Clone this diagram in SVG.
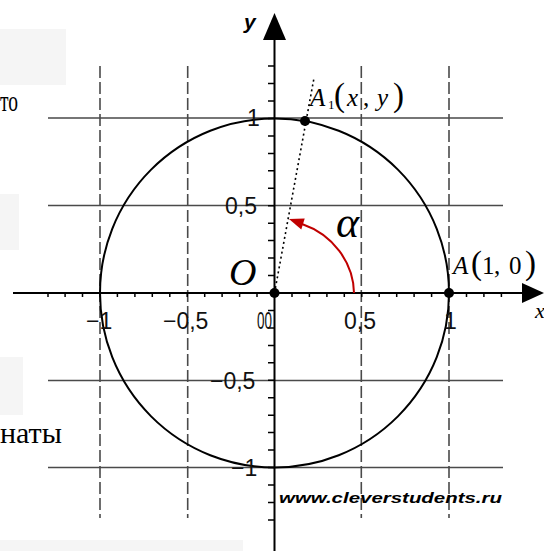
<svg xmlns="http://www.w3.org/2000/svg" width="544" height="551" viewBox="0 0 544 551">
<style>
.box{fill:#f5f5f5}
.page{font-family:"Liberation Serif","Times New Roman",serif;font-size:30px;fill:#000}
.grid-h{stroke:#4a4a4a;stroke-width:1.6;fill:none}
.grid-v{stroke:#4a4a4a;stroke-width:1.6;stroke-dasharray:12 4;fill:none}
.axis{stroke:#000;stroke-width:2;fill:none}
.tick{stroke:#000;stroke-width:1.5;fill:none}
.lbl{font-family:"Liberation Sans",Arial,sans-serif;font-size:23px;fill:#111}
.it{font-family:"Liberation Serif","Times New Roman",serif;font-style:italic;fill:#000}
.rm{font-family:"Liberation Serif","Times New Roman",serif;fill:#000}
</style>
<rect width="544" height="551" fill="#fff"/>
<g id="page-fragments">
<rect class="box" x="0" y="29" width="66" height="56"/>
<rect class="box" x="0" y="194" width="19" height="56"/>
<rect class="box" x="0" y="357" width="23" height="58"/>
<rect class="box" x="0" y="540" width="243" height="11"/>
<text class="page" x="0" y="111" textLength="18" lengthAdjust="spacingAndGlyphs">то</text>
<text class="page" x="0" y="443">наты</text>
</g>
<g id="grid">
<path class="grid-h" d="M48,118H503M48,205.5H503M48,380.5H503M48,467.5H503"/>
<path class="grid-v" d="M100,66V518M187.7,66V518M361.3,66V518M449,66V518"/>
</g>
<g id="circle">
<circle cx="274.5" cy="293" r="174.5" fill="none" stroke="#000" stroke-width="2"/>
</g>
<g id="axes">
<path class="axis" d="M13,293H524M274.5,38V551"/>
<polygon points="274.5,13 263,40 286,40" fill="#000"/>
<polygon points="544,293 522,283 522,303" fill="#000"/>
<path class="tick" d="M48,293v4M65.1,293v4M82.5,293v4M100,293v4M117.4,293v4M134.9,293v4M152.3,293v4M169.8,293v4M187.2,293v4M204.7,293v4M222.1,293v4M239.6,293v4M257,293v4M292,293v4M309.4,293v4M326.9,293v4M344.3,293v4M361.8,293v4M379.2,293v4M396.7,293v4M414.1,293v4M431.6,293v4M449,293v4M466.5,293v4M483.9,293v4M501.4,293v4"/>
<path class="tick" d="M268,66.1h6.5M268,83.6h6.5M268,101h6.5M268,118.5h6.5M268,136h6.5M268,153.4h6.5M268,170.8h6.5M268,188.3h6.5M268,205.7h6.5M268,223.2h6.5M268,240.6h6.5M268,258.1h6.5M268,275.5h6.5M268,310.5h6.5M268,328h6.5M268,345.4h6.5M268,362.8h6.5M268,380.3h6.5M268,397.7h6.5M268,415.2h6.5M268,432.6h6.5M268,450.1h6.5M268,467.5h6.5M268,485h6.5M268,502.4h6.5M268,519.9h6.5"/>
</g>
<g id="tick-labels">
<text class="lbl" x="247" y="126">1</text>
<text class="lbl" x="225" y="214">0,5</text>
<text class="lbl" x="210" y="389">−0,5</text>
<text class="lbl" x="231" y="476">−1</text>
<text class="lbl" x="86" y="329">−1</text>
<text class="lbl" x="163" y="329">−0,5</text>
<text class="lbl" x="257" y="329" textLength="15" lengthAdjust="spacingAndGlyphs">00</text>
<text class="lbl" x="344" y="329">0,5</text>
<text class="lbl" x="444" y="329">1</text>
</g>
<g id="radius">
<path d="M274.5,293L314,78" stroke="#000" stroke-width="1.6" stroke-dasharray="2 3" fill="none"/>
</g>
<g id="angle">
<path d="M354,293A79,75 0 0 0 302,224" stroke="#c00000" stroke-width="2" fill="none"/>
<polygon points="289,219 304.7,218.5 301.3,229.5" fill="#c00000"/>
<text class="it" x="336" y="237" font-size="44">α</text>
</g>
<g id="point-O">
<circle cx="274.5" cy="293" r="5" fill="#000"/>
<text class="it" x="229" y="285" font-size="38">O</text>
</g>
<g id="point-A">
<circle cx="449" cy="293" r="5" fill="#000"/>
<text class="rm" y="274" font-size="25"><tspan class="it" x="453">A</tspan><tspan x="471" font-size="33">(</tspan><tspan x="482">1</tspan><tspan x="494">,</tspan><tspan x="509">0</tspan><tspan x="525" font-size="33">)</tspan></text>
</g>
<g id="point-A1">
<circle cx="305" cy="121" r="5" fill="#000"/>
<text class="rm" y="106" font-size="25"><tspan class="it" x="310">A</tspan><tspan x="328" y="109" font-size="13">1</tspan><tspan x="334" y="106" font-size="33">(</tspan><tspan class="it" x="347">x</tspan><tspan x="363">,</tspan><tspan class="it" x="377">y</tspan><tspan x="393" font-size="33">)</tspan></text>
</g>
<g id="axis-names">
<text x="244" y="29" font-family="Liberation Sans,Arial,sans-serif" font-size="21" font-weight="bold" font-style="italic">y</text>
<text class="it" x="535" y="318" font-size="22">x</text>
</g>
<g id="watermark">
<text x="279" y="503" font-family="Liberation Sans,Arial,sans-serif" font-size="15" font-weight="bold" font-style="italic" textLength="223" lengthAdjust="spacingAndGlyphs">www.cleverstudents.ru</text>
</g>
</svg>
